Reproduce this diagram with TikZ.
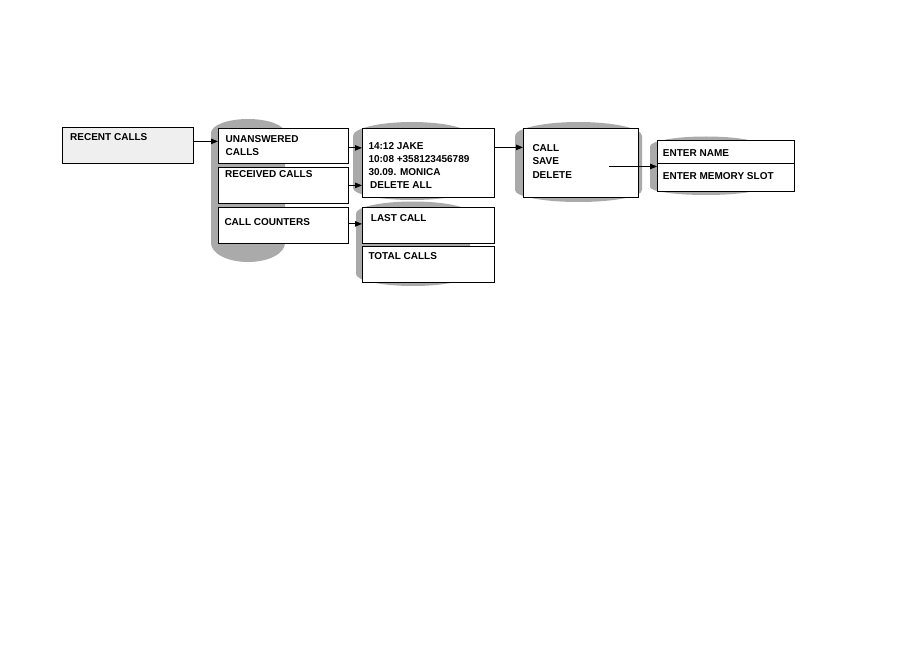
\documentclass[tikz,border=0pt]{standalone}
\usepackage{fontspec}
\setmainfont{Liberation Sans}
\usetikzlibrary{arrows.meta,positioning}
\definecolor{cushion}{RGB}{170,170,170}
\definecolor{paleface}{RGB}{239,239,239}
\tikzset{
  box/.style={draw=black, line width=0.8pt, fill=white, rectangle, inner sep=0pt, anchor=north west},
  lbl/.style={anchor=base west, inner sep=0pt, font=\bfseries\fontsize{10}{12}\selectfont},
  arr/.style={-{Triangle[length=7pt,width=5.5pt]}, line width=0.8pt},
  cushion/.style={fill=cushion}
}
\begin{document}
\begin{tikzpicture}[x=1pt, y=-1pt]
    \useasboundingbox (0,0) rectangle (908,652);

    % grey backdrops behind the menus
    \fill[cushion] (211,133) arc[start angle=180, end angle=360, x radius=37, y radius=14]
        -- (285,243) arc[start angle=0, end angle=180, x radius=37, y radius=19] -- cycle;
    \fill[cushion] (353,136) arc[start angle=180, end angle=360, x radius=59, y radius=14]
        -- (471,188) arc[start angle=0, end angle=180, x radius=59, y radius=12] -- cycle;
    \fill[cushion] (356,213.5) arc[start angle=180, end angle=360, x radius=57, y radius=12]
        -- (470,274) arc[start angle=0, end angle=180, x radius=57, y radius=12] -- cycle;
    \fill[cushion] (515,136) arc[start angle=180, end angle=360, x radius=63.5, y radius=14]
        -- (642,190) arc[start angle=0, end angle=180, x radius=63.5, y radius=12] -- cycle;
    \fill[cushion] (650,146.5) arc[start angle=180, end angle=360, x radius=56, y radius=10]
        -- (762,187) arc[start angle=0, end angle=180, x radius=56, y radius=8] -- cycle;

    % Top menu
    \node[box, fill=paleface, minimum width=131pt, minimum height=36pt] (recent) at (62,127) {};
    \node[lbl] (recentlbl) at (70,141) {RECENT CALLS};

    % First level
    \node[box, minimum width=130pt, minimum height=35pt] (unans) at (218,128) {};
    \node[box, minimum width=130pt, minimum height=36pt] (recv) at (218,167) {};
    \node[box, minimum width=130pt, minimum height=36pt] (counters) at (218,207) {};
    \node[lbl] (unanslbl) at (225.5,142.3) {UNANSWERED};
    \node[lbl] (unanslbl2) at (225.5,155.7) {CALLS};
    \node[lbl] (recvlbl) at (225,177.7) {RECEIVED CALLS};
    \node[lbl] (counterslbl) at (224.3,226) {CALL COUNTERS};

    % Call list
    \node[box, minimum width=132pt, minimum height=69pt] (jake) at (362,128) {};
    \foreach \txt [count=\i] in {14:12 JAKE, 10:08 +358123456789, 30.09. MONICA}
        \node[lbl] (jake\i) at (368.3,{149.3+13*(\i-1)}) {\txt};
    \node[lbl] (delall) at (370,188.3) {DELETE ALL};

    % Counters
    \node[box, minimum width=132pt, minimum height=36pt] (lastcall) at (362,207) {};
    \node[box, minimum width=132pt, minimum height=36pt] (totalcalls) at (362,246) {};
    \node[lbl] (lastcalllbl) at (370.7,221.7) {LAST CALL};
    \node[lbl] (totalcallslbl) at (368.3,260) {TOTAL CALLS};

    % Options
    \node[box, minimum width=115pt, minimum height=69pt] (callmenu) at (523,128) {};
    \foreach \txt/\yy in {CALL/151.7, SAVE/165, DELETE/179}
        \node[lbl] (opt\txt) at (532.3,\yy) {\txt};

    % Save
    \node[box, minimum width=137pt, minimum height=23.5pt] (entername) at (657,140) {};
    \node[box, minimum width=137pt, minimum height=27.5pt] (entermem) at (657,163.5) {};
    \node[lbl] (enternamelbl) at (662.7,156.7) {ENTER NAME};
    \node[lbl] (entermemlbl) at (662.7,180) {ENTER MEMORY SLOT};

    % Arrows
    \draw[arr] ([yshift=4pt]recent.east) -- ([yshift=4pt]recent.east -| unans.west);
    \draw[arr] ([yshift=-2pt]unans.east) -- ([yshift=-2pt]unans.east -| jake.west);
    \draw[arr] (recv.east) -- (recv.east -| jake.west);
    \draw[arr] ([yshift=1.5pt]counters.east) -- ([yshift=1.5pt]counters.east -| lastcall.west);
    \draw[arr] ([yshift=15.5pt]jake.east) -- ([yshift=15.5pt]jake.east -| callmenu.west);
    \coordinate (savept) at (609,166.5);
    \draw[arr] (savept) -- (savept -| entermem.west);
\end{tikzpicture}
\end{document}
